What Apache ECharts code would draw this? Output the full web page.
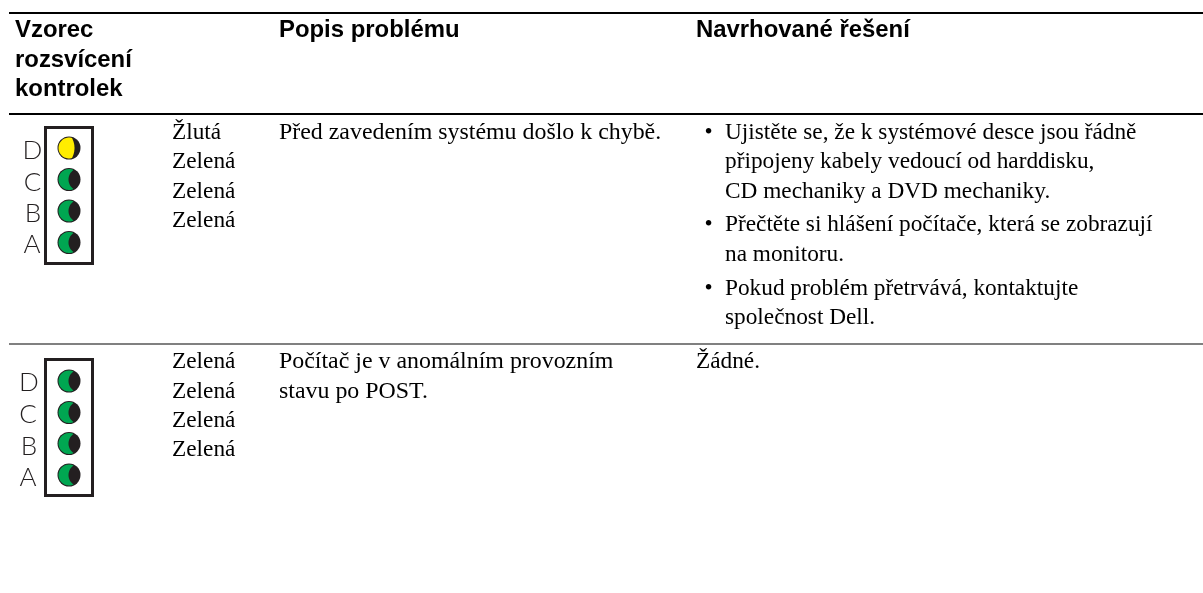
<!DOCTYPE html>
<html>
<head>
<meta charset="utf-8">
<style>
  html, body { margin: 0; padding: 0; background: #fff; }
  #chart { width: 1203px; height: 593px; }
</style>
<script src="https://cdn.jsdelivr.net/npm/echarts@6/dist/echarts.min.js"></script>
</head>
<body>
<div id="chart"></div>
<script>
// tabulka - obsah
var headerPattern = ['Vzorec', 'rozsvícení', 'kontrolek'];
var headerProblem = 'Popis problému';
var headerSolution = 'Navrhované řešení';
var ledLetters = ['D', 'C', 'B', 'A'];
var row1Leds = ['Žlutá', 'Zelená', 'Zelená', 'Zelená'];
var row2Leds = ['Zelená', 'Zelená', 'Zelená', 'Zelená'];
var row1Problem = ['Před zavedením systému došlo k chybě.'];
var row2Problem = ['Počítač je v anomálním provozním', 'stavu po POST.'];
var row1Solution = [
    ['Ujistěte se, že k systémové desce jsou řádně', 'připojeny kabely vedoucí od harddisku,', 'CD mechaniky a DVD mechaniky.'],
    ['Přečtěte si hlášení počítače, která se zobrazují', 'na monitoru.'],
    ['Pokud problém přetrvává, kontaktujte', 'společnost Dell.']
];
var row2Solution = ['Žádné.'];

// rozmery
var sans = '"Liberation Sans", Arial, sans-serif';
var serif = '"Liberation Serif", "Times New Roman", serif';
var letterFont = 'Lato, "Open Sans", sans-serif';
var headSize = 23.9;
var bodySize = 23.3;
var problemSize = 23.9;
var colX = { pattern: 15, leds: 172, problem: 279, solution: 696, bullet: 704.5, bulletText: 725 };
var rules = [
    { y: 13, color: '#000000', width: 2 },
    { y: 114, color: '#000000', width: 2 },
    { y: 344, color: '#808080', width: 2 }
];
var ledColors = { 'Žlutá': '#ffed00', 'Zelená': '#00a651' };

var texts = [];
function addText(x, y, text, font, size, weight) {
    texts.push({ value: [x, y], text: text, font: font, size: size, weight: weight || 'normal' });
}
headerPattern.forEach(function (t, i) {
    addText(colX.pattern, [39, 68.5, 97.5][i], t, sans, headSize, 'bold');
});
addText(colX.problem, 39, headerProblem, sans, headSize, 'bold');
addText(colX.solution, 39, headerSolution, sans, headSize, 'bold');

row1Leds.forEach(function (t, i) { addText(colX.leds, [141, 170, 199.5, 229][i], t, serif, bodySize); });
row2Leds.forEach(function (t, i) { addText(colX.leds, [370, 399.5, 429, 458][i], t, serif, bodySize); });
row1Problem.forEach(function (t) { addText(colX.problem, 141, t, serif, problemSize); });
row2Problem.forEach(function (t, i) { addText(colX.problem, [370, 400][i], t, serif, problemSize); });

var solutionBase = [[141, 169.5, 199.5], [233, 262.5], [296.5, 326]];
row1Solution.forEach(function (lines, i) {
    addText(colX.bullet, solutionBase[i][0], '•', serif, bodySize);
    lines.forEach(function (t, j) { addText(colX.bulletText, solutionBase[i][j], t, serif, bodySize); });
});
row2Solution.forEach(function (t) { addText(colX.solution, 370, t, serif, bodySize); });

// kontrolky
var panels = [
    { box: [45.5, 127.5, 92.5, 263.5], letterX: [32.5, 32.5, 33, 32], letterY: [151, 183, 214, 245], ledY: [148, 179.5, 211, 242.5], leds: row1Leds },
    { box: [45.5, 359.5, 92.5, 495.5], letterX: [29, 28, 29, 28], letterY: [382.5, 415, 446.5, 477.5], ledY: [381, 412.5, 443.5, 475], leds: row2Leds }
];
var ledData = [];
var letterData = [];
panels.forEach(function (p) {
    p.leds.forEach(function (name, i) {
        ledData.push({ value: [69, p.ledY[i]], name: name });
        letterData.push({ value: [p.letterX[i], p.letterY[i]], text: ledLetters[i] });
    });
});

// svitici cast kontrolky jako polygon: vnejsi oblouk vlevo, vnitrni oblouk mezi spicemi
function litPoints(x, y, name) {
    var R = 10.5;
    var tip = name === 'Žlutá' ? 3 : 4.5;      // spicky oblouku vpravo od stredu
    var bulge = name === 'Žlutá' ? 5.5 : -0.5; // kam dosahuje vnitrni oblouk
    var h = Math.sqrt(R * R - tip * tip);
    var a0 = Math.atan2(-h, tip);
    var pts = [];
    var i;
    for (i = 0; i <= 40; i++) {
        // z horni spicky pres levou stranu dolu
        var a = a0 - (i / 40) * (2 * Math.PI + 2 * a0);
        pts.push([x + R * Math.cos(a), y + R * Math.sin(a)]);
    }
    var s = bulge - tip;
    var r = (h * h + s * s) / (2 * Math.abs(s));
    var cx = tip + (s > 0 ? s - r : s + r);
    for (i = 1; i < 20; i++) {
        var py = h - (i / 20) * 2 * h;
        var dx = Math.sqrt(r * r - py * py);
        pts.push([x + cx + (s > 0 ? dx : -dx), y + py]);
    }
    return pts;
}

var myChart = echarts.init(document.getElementById('chart'));
var option = {
    animation: false,
    backgroundColor: '#ffffff',
    grid: { left: 0, right: 0, top: 0, bottom: 0 },
    xAxis: { type: 'value', min: 0, max: 1203, show: false },
    yAxis: { type: 'value', min: 0, max: 593, inverse: true, show: false },
    series: [
        {
            // vodorovne cary
            type: 'custom',
            coordinateSystem: 'cartesian2d',
            silent: true,
            data: rules.map(function (r) { return [9, r.y, 1203]; }),
            renderItem: function (params, api) {
                var r = rules[params.dataIndex];
                var a = api.coord([api.value(0), api.value(1)]);
                var b = api.coord([api.value(2), api.value(1)]);
                return { type: 'line', shape: { x1: a[0], y1: a[1], x2: b[0], y2: b[1] }, style: { stroke: r.color, lineWidth: r.width } };
            }
        },
        {
            // ramecky kontrolek
            type: 'custom',
            coordinateSystem: 'cartesian2d',
            silent: true,
            data: panels.map(function (p) { return p.box; }),
            renderItem: function (params, api) {
                var a = api.coord([api.value(0), api.value(1)]);
                var b = api.coord([api.value(2), api.value(3)]);
                return { type: 'rect', shape: { x: a[0], y: a[1], width: b[0] - a[0], height: b[1] - a[1] }, style: { fill: 'none', stroke: '#231f20', lineWidth: 3 } };
            }
        },
        {
            // kontrolky: tmavy kruh a svitici cast
            type: 'custom',
            coordinateSystem: 'cartesian2d',
            silent: true,
            data: ledData,
            renderItem: function (params, api) {
                var c = api.coord([api.value(0), api.value(1)]);
                var name = ledData[params.dataIndex].name;
                return {
                    type: 'group',
                    children: [
                        { type: 'circle', shape: { cx: c[0], cy: c[1], r: 11.5 }, style: { fill: '#231f20' } },
                        { type: 'polygon', shape: { points: litPoints(c[0], c[1], name) }, style: { fill: ledColors[name] } }
                    ]
                };
            }
        },
        {
            // pismena kontrolek
            type: 'custom',
            coordinateSystem: 'cartesian2d',
            silent: true,
            data: letterData,
            renderItem: function (params, api) {
                var c = api.coord([api.value(0), api.value(1)]);
                return { type: 'text', style: { x: c[0], y: c[1], text: letterData[params.dataIndex].text, font: '300 26px ' + letterFont, fill: '#231f20', align: 'center', verticalAlign: 'middle' } };
            }
        },
        {
            // texty tabulky
            type: 'custom',
            coordinateSystem: 'cartesian2d',
            silent: true,
            data: texts,
            renderItem: function (params, api) {
                var t = texts[params.dataIndex];
                var c = api.coord(t.value);
                return { type: 'text', style: { x: c[0], y: c[1] - t.size * 0.34, text: t.text, font: t.weight + ' ' + t.size + 'px ' + t.font, fill: '#000000', align: 'left', verticalAlign: 'middle' } };
            }
        }
    ]
};
myChart.setOption(option);
</script>
</body>
</html>
